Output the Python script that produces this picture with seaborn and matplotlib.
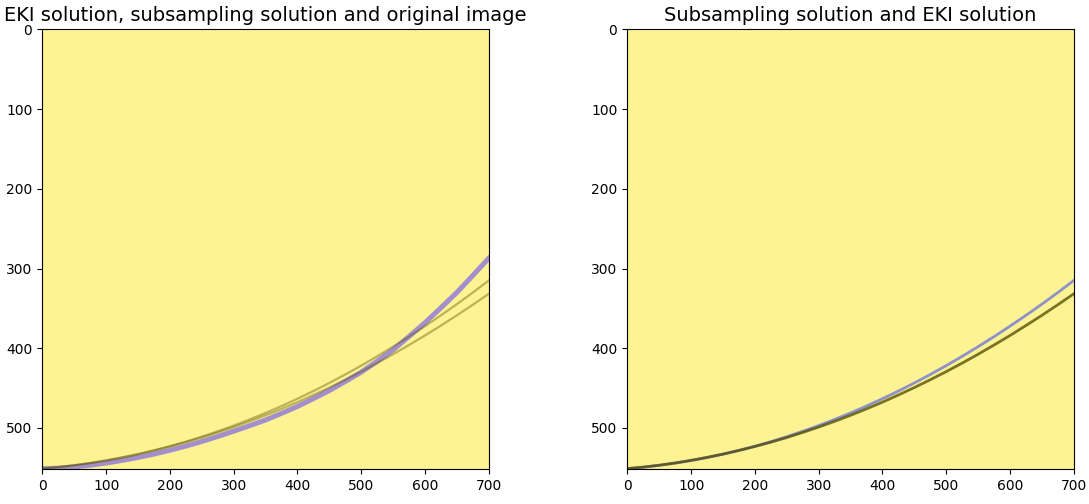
import numpy as np
import matplotlib.pyplot as plt
import seaborn as sns

# image size (rows, cols) of the reconstructed pictures
img_shape = (552, 701)

x_pts = np.arange(0, 701, 25)

# row of the curve in the original image
original_y = np.array([551, 550.5, 549, 546.7, 544, 540.7, 537, 532.7, 528, 522.7,
                       517, 510.7, 504, 497.2, 490, 481.7, 473, 463.2, 453, 441.7,
                       430, 416.2, 402, 385.2, 368, 349.2, 330, 308.7, 287])
# subsampling solution
subsampling_y = np.array([551, 549.2, 546.9, 544.1, 540.9, 537.1, 532.9, 528.1, 522.9, 517.2,
                          510.9, 504.2, 497.0, 489.3, 481.2, 472.5, 463.3, 453.7, 443.5, 432.9,
                          421.8, 410.1, 398.0, 385.4, 372.3, 358.7, 344.7, 330.1, 315.0])
# EKI solution
eki_y = np.array([551, 549.1, 546.7, 543.9, 540.6, 536.9, 532.8, 528.2, 523.2, 517.8,
                  512.0, 505.6, 498.9, 491.7, 484.1, 476.0, 467.6, 458.6, 449.3, 439.5,
                  429.3, 418.6, 407.5, 395.9, 384.0, 371.5, 358.7, 345.4, 331.7])

titles = ["EKI solution, subsampling solution and original image",
          "Subsampling solution and EKI solution"]

fig = plt.figure(figsize=(10.89, 5.04), dpi=100)
ax1 = fig.add_axes([0.0386, 0.0694, 0.4105, 0.873])
ax2 = fig.add_axes([0.5758, 0.0694, 0.4105, 0.873])

background = np.ones(img_shape)

#left panel: original image + both solutions
ax1.imshow(background, cmap='viridis', vmin=0, vmax=1, alpha=0.5, aspect='auto')
sns.lineplot(x=x_pts, y=original_y, ax=ax1, color='#a38fcc', linewidth=3.6, sort=False)
sns.lineplot(x=x_pts, y=subsampling_y, ax=ax1, color='#5a5200', alpha=0.4, linewidth=1.6, sort=False)
sns.lineplot(x=x_pts, y=eki_y, ax=ax1, color='#5a5200', alpha=0.4, linewidth=1.6, sort=False)

#right panel: subsampling vs EKI
ax2.imshow(background, cmap='viridis', vmin=0, vmax=1, alpha=0.5, aspect='auto')
sns.lineplot(x=x_pts, y=subsampling_y, ax=ax2, color='#8d92c9', linewidth=2.0, sort=False)
sns.lineplot(x=x_pts, y=eki_y, ax=ax2, color='#4d4800', alpha=0.75, linewidth=2.0, sort=False)

for ax, t in zip([ax1, ax2], titles):
    ax.set_xlim(-0.5, img_shape[1] - 0.5)
    ax.set_ylim(img_shape[0] - 0.5, -0.5)
    ax.set_xticks(range(0, 701, 100))
    ax.set_yticks(range(0, 501, 100))
    ax.set_title(t, fontsize=14)

plt.savefig("out.png", dpi=100)
